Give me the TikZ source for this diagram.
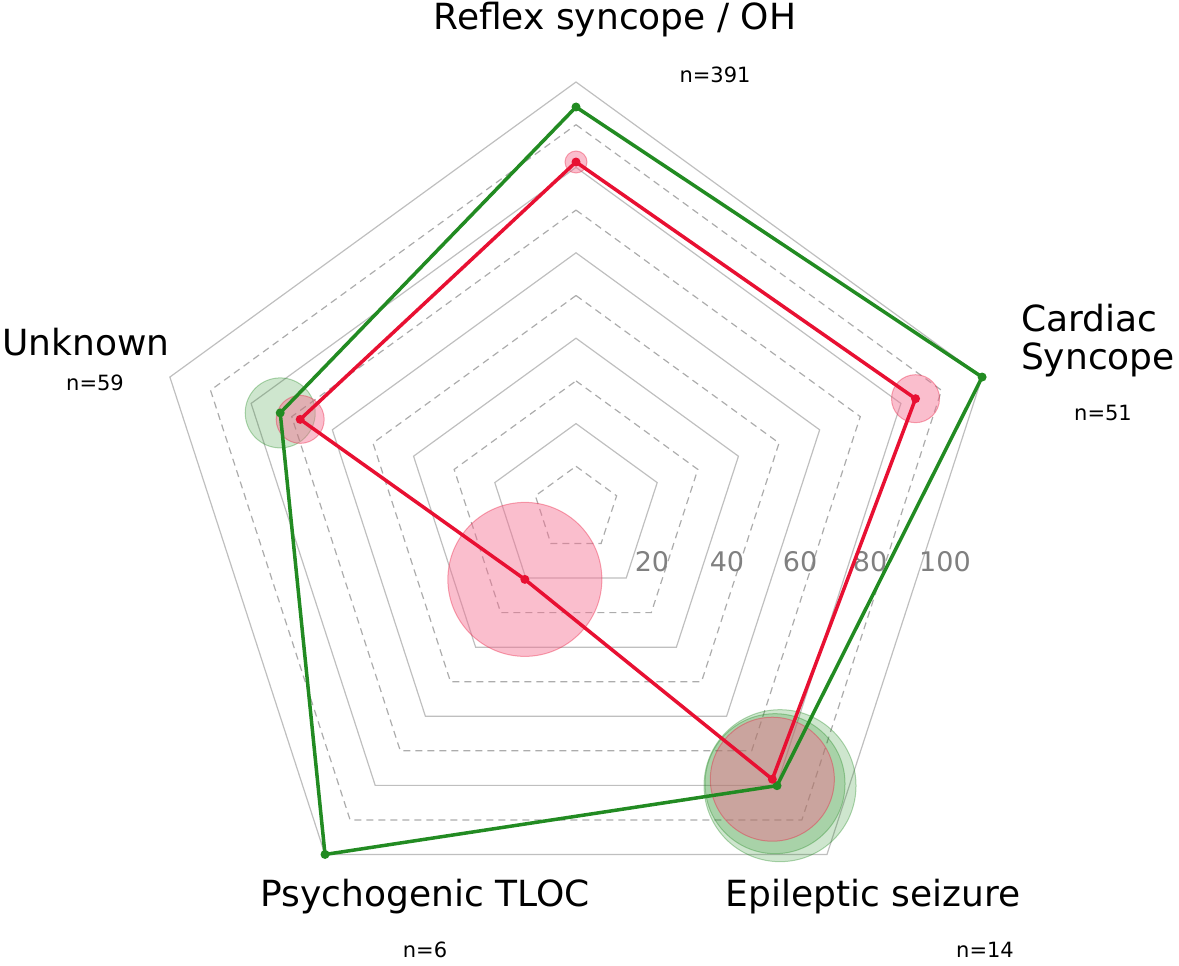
\documentclass[tikz,border=0pt]{standalone}
\usepackage{fontspec}
\setmainfont{DejaVu Sans}
\definecolor{myred}{RGB}{232,16,50}
\definecolor{mygreen}{RGB}{34,139,34}
\definecolor{mypink}{RGB}{245,110,145}
\begin{document}
\begin{tikzpicture}[x=1pt,y=1pt,
  ring/.style={draw=gray!50,line width=1.2pt},
  dring/.style={draw=gray!65,line width=1.2pt,dash pattern=on 7pt off 5pt},
  redl/.style={draw=myred,line width=3.5pt,line join=round},
  greenl/.style={draw=mygreen,line width=3.5pt,line join=round},
  redc/.style={fill=mypink,fill opacity=0.45,draw=myred,draw opacity=0.35,line width=1pt},
  greenc/.style={fill=mygreen,fill opacity=0.22,draw=mygreen,draw opacity=0.35,line width=1pt},
  big/.style={font=\fontsize{36}{40}\selectfont},
  small/.style={font=\fontsize{21}{24}\selectfont},
  tick/.style={font=\fontsize{27}{30}\selectfont,text=gray}]
\useasboundingbox (0,0) rectangle (1179,-966);
\begin{scope}[shift={(576,-509)}]
\foreach \k in {1,...,10}{
  \pgfmathsetmacro{\r}{42.7*\k}
  \ifodd\k
    \draw[dring] (90:\r) -- (18:\r) -- (-54:\r) -- (-126:\r) -- (162:\r) -- cycle;
  \else
    \draw[ring] (90:\r) -- (18:\r) -- (-54:\r) -- (-126:\r) -- (162:\r) -- cycle;
  \fi
}
\node[tick] (t20) at (76,-53) {20};
\node[tick] (t40) at (151,-53) {40};
\node[tick] (t60) at (224,-53) {60};
\node[tick] (t80) at (294,-53) {80};
\node[tick] (t100) at (369,-53) {100};
% circles
\fill[greenc] (-54:342) ++(3,0) circle (76);
\fill[greenc] (-54:342) ++(-2,2) circle (70);
\fill[redc] (-54:334) circle (62);
\fill[greenc] (162:311) circle (35);
\fill[redc] (162:290) circle (24);
\fill[redc] (-126:87) circle (77);
\fill[redc] (18:357) circle (24);
\fill[redc] (90:347) circle (11);
% lines
\draw[greenl] (90:402) coordinate (g1) -- (18:427) coordinate (g2) -- (-54:342) coordinate (g3) -- (-126:427) coordinate (g4) -- (162:311) coordinate (g5) -- cycle;
\draw[redl] (90:347) coordinate (r1) -- (18:357) coordinate (r2) -- (-54:334) coordinate (r3) -- (-126:87) coordinate (r4) -- (162:290) coordinate (r5) -- cycle;
\foreach \p in {g1,g2,g3,g4,g5}{\fill[mygreen] (\p) circle (4.5);}
\foreach \p in {r1,r2,r3,r4,r5}{\fill[myred] (\p) circle (4.5);}
\end{scope}
\node[big] (lrs) at (615,-20) {Reflex syncope / OH};
\node[small] (nrs) at (715,-75) {n=391};
\node[big,align=left] (lcs) at (1098,-341) {Cardiac\\[-2pt]Syncope};
\node[small] (ncs) at (1103,-413) {n=51};
\node[big] (lun) at (86,-342) {Unknown};
\node[small] (nun) at (95,-383) {n=59};
\node[big] (lpt) at (425,-897) {Psychogenic TLOC};
\node[small] (npt) at (425,-950) {n=6};
\node[big] (les) at (873,-897) {Epileptic seizure};
\node[small] (nes) at (985,-950) {n=14};
\end{tikzpicture}
\end{document}
